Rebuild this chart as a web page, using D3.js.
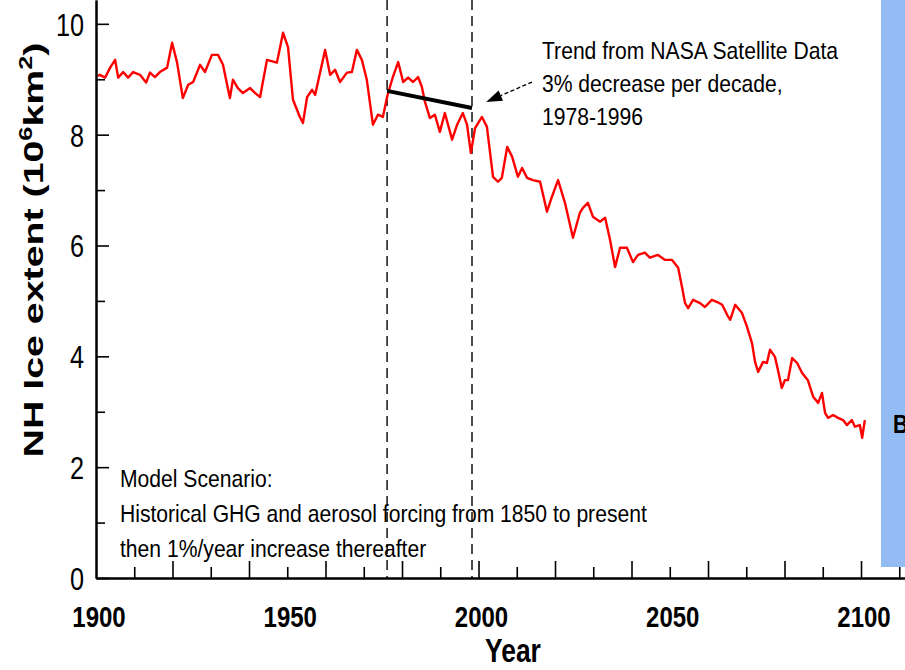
<!DOCTYPE html>
<html>
<head>
<meta charset="utf-8">
<script src="https://cdn.jsdelivr.net/npm/d3@7"></script>
<style>
  body { margin: 0; background: #fff; }
  svg { display: block; }
</style>
</head>
<body>
<div id="chart"></div>
<script>
// modelled NH ice extent (year, 10^6 km^2)
const years = [
  1900.5, 1901.0, 1902.4, 1903.7, 1905.0, 1905.8, 1907.1, 1908.4, 1909.7, 1911.5,
  1913.1, 1914.1, 1915.4, 1916.7, 1918.6, 1919.9, 1921.2, 1922.7, 1924.1, 1925.4,
  1927.2, 1928.5, 1930.3, 1931.9, 1933.2, 1935.0, 1935.8, 1937.1, 1938.4, 1940.3,
  1941.6, 1942.9, 1944.7, 1947.3, 1948.9, 1950.2, 1951.5, 1953.3, 1954.1, 1955.2,
  1956.5, 1957.3, 1959.9, 1961.2, 1962.5, 1963.8, 1965.6, 1966.9, 1968.2, 1969.5,
  1970.8, 1972.4, 1973.7, 1975.0, 1976.1, 1977.6, 1979.0, 1980.3, 1981.6, 1982.9,
  1984.2, 1985.2, 1986.0, 1987.3, 1988.6, 1989.9, 1991.2, 1993.1, 1994.4, 1995.9,
  1997.0, 1998.0, 1999.1, 2000.9, 2002.2, 2003.8, 2005.1, 2006.1, 2007.5, 2008.8,
  2010.3, 2011.4, 2012.7, 2014.2, 2016.1, 2017.9, 2019.2, 2020.8, 2022.6, 2024.7,
  2026.5, 2027.3, 2028.6, 2029.9, 2031.8, 2033.1, 2034.4, 2035.7, 2037.0, 2038.8,
  2040.4, 2041.7, 2043.5, 2044.8, 2046.9, 2048.8, 2050.6, 2052.2, 2053.2, 2054.0,
  2054.8, 2056.1, 2057.9, 2059.2, 2061.0, 2062.4, 2063.7, 2065.0, 2065.8, 2067.1,
  2068.9, 2070.2, 2071.5, 2072.3, 2073.1, 2074.4, 2075.4, 2076.2, 2077.5, 2078.3,
  2079.3, 2080.1, 2080.9, 2082.0, 2083.3, 2084.6, 2086.1, 2087.5, 2088.8, 2089.8,
  2090.6, 2091.4, 2092.7, 2094.0, 2095.3, 2096.3, 2097.6, 2098.4, 2099.7, 2100.3,
  2101.0
]
const extent = [
  9.06, 9.08, 9.03, 9.21, 9.35, 9.03, 9.13, 9.03, 9.13, 9.08,
  8.94, 9.12, 9.04, 9.13, 9.21, 9.66, 9.30, 8.66, 8.90, 8.95,
  9.26, 9.13, 9.44, 9.44, 9.26, 8.66, 8.99, 8.84, 8.75, 8.84,
  8.75, 8.68, 9.35, 9.30, 9.84, 9.58, 8.63, 8.32, 8.21, 8.68,
  8.81, 8.72, 9.53, 9.08, 9.17, 8.95, 9.12, 9.13, 9.53, 9.35,
  8.99, 8.18, 8.36, 8.32, 8.68, 9.04, 9.31, 8.95, 9.03, 8.95,
  9.04, 8.86, 8.59, 8.30, 8.36, 8.05, 8.39, 7.91, 8.18, 8.39,
  8.18, 7.67, 8.12, 8.32, 8.14, 7.24, 7.15, 7.22, 7.78, 7.60,
  7.24, 7.40, 7.22, 7.18, 7.15, 6.61, 6.88, 7.18, 6.77, 6.14,
  6.59, 6.68, 6.77, 6.52, 6.43, 6.50, 6.10, 5.61, 5.96, 5.96,
  5.70, 5.83, 5.87, 5.78, 5.83, 5.74, 5.74, 5.60, 5.25, 4.96,
  4.87, 5.02, 4.96, 4.89, 5.02, 4.98, 4.93, 4.75, 4.66, 4.93,
  4.78, 4.53, 4.24, 3.90, 3.72, 3.90, 3.88, 4.12, 3.99, 3.75,
  3.43, 3.57, 3.57, 3.97, 3.88, 3.70, 3.57, 3.27, 3.16, 3.34,
  2.98, 2.89, 2.94, 2.89, 2.85, 2.76, 2.85, 2.73, 2.76, 2.53,
  2.85
]

// satellite trend segment and the two dashed markers
const trendYears = [1976.1, 1998.3]
const trendValues = [8.79, 8.48]
const markerYears = [1976.1, 1998.3]

// ticks
const yLabels = [0, 2, 4, 6, 8, 10]
const yMinor = [1, 3, 5, 7, 9]
const xLabels = [1900, 1950, 2000, 2050, 2100]
const xMajor = [1920, 1940, 1960, 1980, 2000, 2020, 2040, 2060, 2080, 2100]
const xMinor = [1910, 1930, 1950, 1970, 1990, 2010, 2030, 2050, 2070, 2090, 2110]

const noteTop = ['Trend from NASA Satellite Data', '3% decrease per decade,', '1978-1996']
const noteBottom = ['Model Scenario:', 'Historical GHG and aerosol forcing from 1850 to present', 'then 1%/year increase thereafter']

const W = 905
const H = 670
const FONT = '"Liberation Sans", Arial, Helvetica, sans-serif'

const svg = d3.select('#chart')
  .append('svg')
  .attr('width', W)
  .attr('height', H)

// scales run a bit past 2100 and 10 so the axis lines reach the edges
const x = d3.scaleLinear().domain([1900, 2111.5]).range([96, 905])
const y = d3.scaleLinear().domain([0, 10.43]).range([578, 0])

/** squeezed text, the source picture is narrower than normal type */
function label (parent, str, px, py, size, sx, opts) {
  opts = opts || {}
  return parent.append('text')
    .attr('transform', 'translate(' + px + ',' + py + ') scale(' + sx + ',1)')
    .attr('text-anchor', opts.anchor || 'start')
    .style('font-family', FONT)
    .style('font-size', size + 'px')
    .style('font-weight', opts.bold ? 'bold' : 'normal')
    .attr('fill', '#000')
    .text(str)
}

// blue strip on the right edge, its label runs off the page as in the source
svg.append('rect')
  .attr('x', 881).attr('y', 0)
  .attr('width', W - 881).attr('height', 567)
  .attr('fill', '#93bcf4')
label(svg, 'B', 893, 433, 25, 0.85, { bold: true })

// dashed period markers
svg.selectAll('.marker')
  .data(markerYears)
  .enter()
  .append('line')
  .attr('class', 'marker')
  .attr('x1', d => x(d)).attr('x2', d => x(d))
  .attr('y1', 0).attr('y2', y(0))
  .attr('stroke', '#000')
  .attr('stroke-width', 1.4)
  .attr('stroke-dasharray', '10,6')

// model curve
const pts = years.map((yr, i) => ({ year: yr, value: extent[i] }))
const line = d3.line().x(d => x(d.year)).y(d => y(d.value))
svg.append('path')
  .datum(pts)
  .attr('d', line)
  .attr('fill', 'none')
  .attr('stroke', '#ff0000')
  .attr('stroke-width', 2.4)
  .attr('stroke-linejoin', 'round')

// trend segment
svg.append('line')
  .attr('x1', x(trendYears[0])).attr('y1', y(trendValues[0]))
  .attr('x2', x(trendYears[1])).attr('y2', y(trendValues[1]))
  .attr('stroke', '#000')
  .attr('stroke-width', 4)

// axes, ticks point inwards
function styleAxis (g) {
  g.selectAll('path').attr('stroke', '#000').attr('stroke-width', 2)
  g.selectAll('.tick line').attr('stroke', '#000').attr('stroke-width', 1.6)
}
svg.append('g')
  .attr('transform', 'translate(0,' + y(0) + ')')
  .call(d3.axisBottom(x).tickValues(xMinor).tickSizeInner(-11).tickSizeOuter(0).tickFormat(''))
  .call(styleAxis)
svg.append('g')
  .attr('transform', 'translate(0,' + y(0) + ')')
  .call(d3.axisBottom(x).tickValues(xMajor).tickSizeInner(-17).tickSizeOuter(0).tickFormat(''))
  .call(styleAxis)
svg.append('g')
  .attr('transform', 'translate(' + x(1900) + ',0)')
  .call(d3.axisRight(y).tickValues(yMinor).tickSizeInner(9).tickSizeOuter(0).tickFormat(''))
  .call(styleAxis)
svg.append('g')
  .attr('transform', 'translate(' + x(1900) + ',0)')
  .call(d3.axisRight(y).tickValues(yLabels).tickSizeInner(13).tickSizeOuter(0).tickFormat(''))
  .call(styleAxis)

// tick labels
yLabels.forEach(v => label(svg, String(v), 84, y(v) + 12, 32, 0.79, { anchor: 'end' }))
xLabels.forEach(v => label(svg, String(v), x(v) + 3, 627, 30, 0.8, { anchor: 'middle', bold: true }))

// axis titles
label(svg, 'Year', 513, 662, 33, 0.8, { anchor: 'middle', bold: true })

const yTitle = svg.append('text')
  .attr('text-anchor', 'middle')
  .style('font-family', FONT)
  .style('font-size', '28px')
  .style('font-weight', 'bold')
yTitle.append('tspan').text('NH Ice extent (10')
yTitle.append('tspan').attr('dy', -11).style('font-size', '18px').text('6')
yTitle.append('tspan').attr('dy', 11).text('km')
yTitle.append('tspan').attr('dy', -11).style('font-size', '18px').text('2')
yTitle.append('tspan').attr('dy', 11).text(')')
const titleLen = yTitle.node().getComputedTextLength()
yTitle.attr('transform', 'translate(43,250) rotate(-90) scale(' + (415 / titleLen) + ',1)')

// notes
noteTop.forEach((s, i) => label(svg, s, 542, 59 + i * 33, 24, 0.88))
noteBottom.forEach((s, i) => label(svg, s, 120, 487 + i * 35, 24, 0.88))

// arrow from the note to the end of the trend
const tail = [x(2014), y(8.95)]
const tip = [x(2002), y(8.59)]
const dx = tip[0] - tail[0]
const dy = tip[1] - tail[1]
const len = Math.hypot(dx, dy)
const ux = dx / len
const uy = dy / len
const headLen = 16
const headW = 5.5
const bx = tip[0] - ux * headLen
const by = tip[1] - uy * headLen
svg.append('line')
  .attr('x1', tail[0]).attr('y1', tail[1])
  .attr('x2', bx).attr('y2', by)
  .attr('stroke', '#000')
  .attr('stroke-width', 1.4)
  .attr('stroke-dasharray', '4,2.5')
svg.append('polygon')
  .attr('points', [
    tip,
    [bx - uy * headW, by + ux * headW],
    [bx + uy * headW, by - ux * headW]
  ].map(p => p.join(',')).join(' '))
  .attr('fill', '#000')
</script>
</body>
</html>
